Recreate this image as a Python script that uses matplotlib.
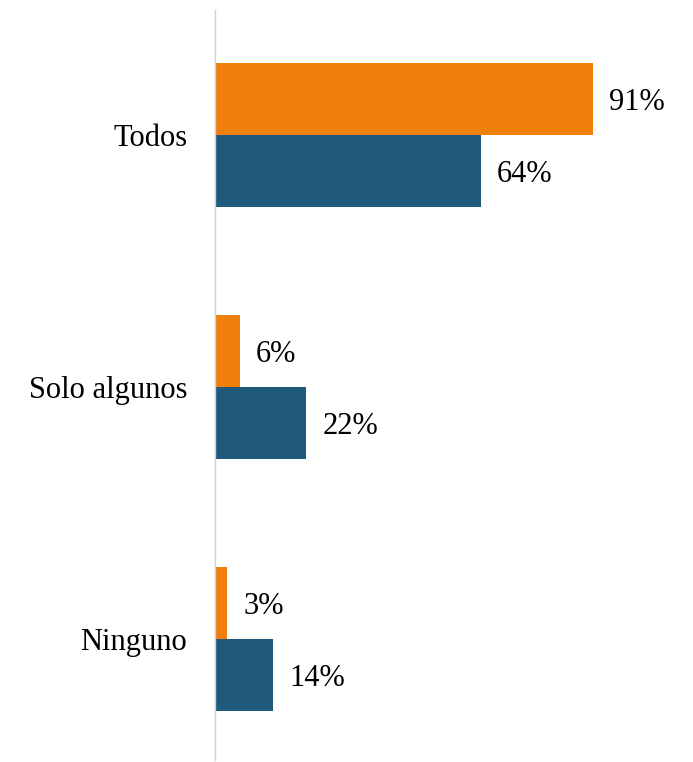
import numpy as np
import matplotlib.pyplot as plt
import matplotlib

matplotlib.rcParams['font.family'] = ['Liberation Serif', 'DejaVu Serif']

# Data
categories = ['Todos', 'Solo algunos', 'Ninguno']
serie_naranja = [91, 6, 3]
serie_azul = [64, 22, 14]

color_naranja = '#F0800C'
color_azul = '#1F5A7D'

fig = plt.figure(figsize=(6.93, 7.62), dpi=100)
ax = fig.add_axes([215/693, 2/762, 0.6, 750/762])

y = np.arange(len(categories))
h = 0.286

ax.barh(y - h/2, serie_naranja, height=h, color=color_naranja)
ax.barh(y + h/2, serie_azul, height=h, color=color_azul)

# value labels
for i in range(len(categories)):
    ax.text(serie_naranja[i] + 3.8, y[i] - h/2, f'{serie_naranja[i]}%',
            va='center_baseline', ha='left', fontsize=22, clip_on=False)
    ax.text(serie_azul[i] + 3.8, y[i] + h/2, f'{serie_azul[i]}%',
            va='center_baseline', ha='left', fontsize=22, clip_on=False)

ax.set_xlim(0, 100)
ax.set_ylim(2.48, -0.496)
ax.set_yticks(y)
ax.set_yticklabels(categories, fontsize=22)
ax.tick_params(axis='y', length=0, pad=20)
ax.set_xticks([])

for s in ['top', 'right', 'bottom']:
    ax.spines[s].set_visible(False)
ax.spines['left'].set_color('#D0D0D0')
ax.spines['left'].set_linewidth(1)

fig.savefig('out.png', dpi=100)
